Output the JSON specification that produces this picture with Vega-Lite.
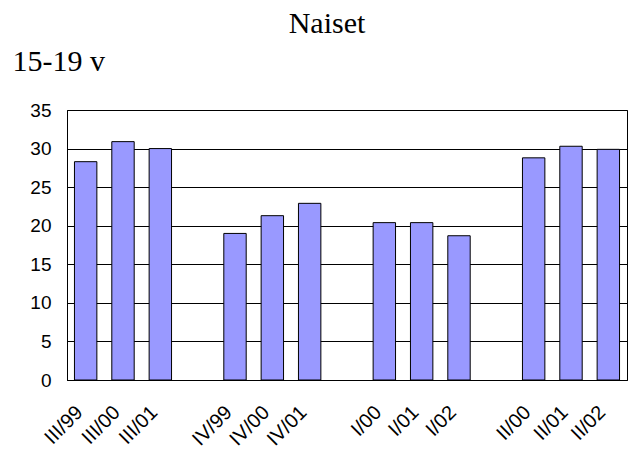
{
  "$schema": "https://vega.github.io/schema/vega-lite/v6.json",
  "autosize": "none",
  "width": 560,
  "height": 270,
  "padding": {"left": 67, "top": 110, "right": 8, "bottom": 78},
  "background": "white",
  "title": {
    "text": "Naiset",
    "font": "Liberation Serif",
    "fontSize": 30,
    "fontWeight": "normal",
    "color": "black",
    "anchor": "middle",
    "offset": 7,
    "dx": -20
  },
  "data": {
    "values": [
      {"kausi": "III/99", "arvo": 28.3},
      {"kausi": "III/00", "arvo": 30.9},
      {"kausi": "III/01", "arvo": 30.0},
      {"kausi": "IV/99", "arvo": 19.0},
      {"kausi": "IV/00", "arvo": 21.3},
      {"kausi": "IV/01", "arvo": 22.9},
      {"kausi": "I/00", "arvo": 20.4},
      {"kausi": "I/01", "arvo": 20.4},
      {"kausi": "I/02", "arvo": 18.7},
      {"kausi": "II/00", "arvo": 28.8},
      {"kausi": "II/01", "arvo": 30.3},
      {"kausi": "II/02", "arvo": 29.9}
    ]
  },
  "mark": {"type": "bar", "color": "#9999FF", "stroke": "black", "strokeWidth": 1},
  "encoding": {
    "x": {
      "field": "kausi",
      "type": "nominal",
      "scale": {
        "domain": ["III/99", "III/00", "III/01", " ", "IV/99", "IV/00", "IV/01", "  ", "I/00", "I/01", "I/02", "   ", "II/00", "II/01", "II/02"],
        "paddingInner": 0.4,
        "paddingOuter": 0.2
      },
      "axis": {
        "title": null,
        "labelAngle": -45,
        "labelAlign": "right",
        "labelBaseline": "middle",
        "labelFont": "Liberation Sans",
        "labelFontSize": 20,
        "labelColor": "black",
        "labelPadding": 29,
        "labelOffset": -6,
        "ticks": false,
        "domainColor": "black",
        "grid": false
      }
    },
    "y": {
      "field": "arvo",
      "type": "quantitative",
      "scale": {"domain": [0, 35], "nice": false},
      "axis": {
        "values": [0, 5, 10, 15, 20, 25, 30, 35],
        "title": "15-19 v",
        "titleAngle": 0,
        "titleAlign": "left",
        "titleBaseline": "alphabetic",
        "titleX": -55,
        "titleY": -40,
        "titleFont": "Liberation Serif",
        "titleFontSize": 30,
        "titleFontWeight": "normal",
        "titleColor": "black",
        "labelFont": "Liberation Sans",
        "labelFontSize": 19,
        "labelColor": "black",
        "labelPadding": 16,
        "ticks": false,
        "domainColor": "black",
        "gridColor": "black",
        "gridOpacity": 1
      }
    }
  },
  "config": {
    "view": {"stroke": "black", "strokeWidth": 1}
  }
}
